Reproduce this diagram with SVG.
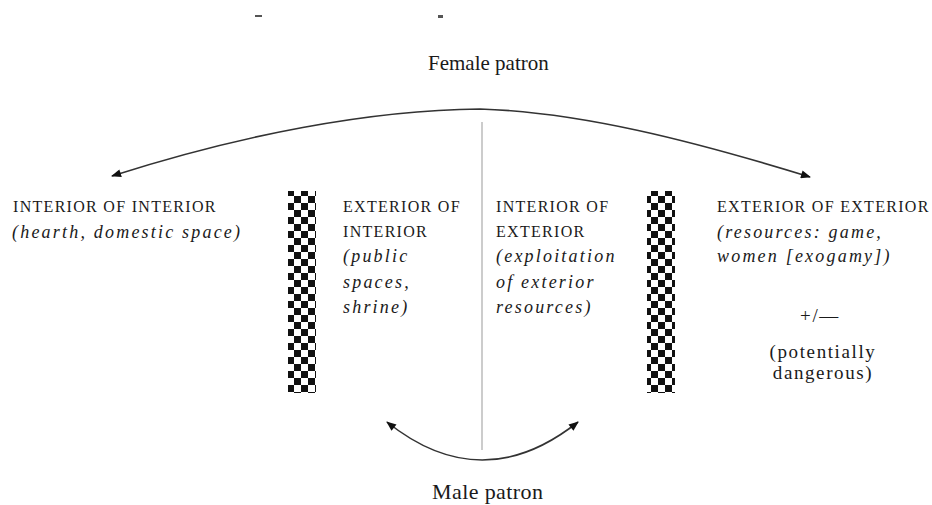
<svg xmlns="http://www.w3.org/2000/svg" width="932" height="505" viewBox="0 0 932 505">
<style>
.lab{font-family:"Liberation Serif",serif;font-size:22px;fill:#1a1a1a;letter-spacing:0.4px}
.cap{font-family:"Liberation Serif",serif;font-size:16px;fill:#1a1a1a;letter-spacing:1.3px}
.it{font-family:"Liberation Serif",serif;font-size:18px;font-style:italic;fill:#1a1a1a;letter-spacing:2.2px}
.up{font-family:"Liberation Serif",serif;font-size:19px;fill:#1a1a1a;letter-spacing:1.6px}
.arc{fill:none;stroke:#333;stroke-width:1.6}
</style>
<defs>
<marker id="ah" viewBox="0 0 10 8" refX="9" refY="4" markerWidth="11" markerHeight="8" markerUnits="userSpaceOnUse" orient="auto-start-reverse">
<path d="M0,0 L10,4 L0,8 Z" fill="#111"/>
</marker>
<pattern id="chk" x="0" y="0" width="14" height="14" patternUnits="userSpaceOnUse">
<rect width="14" height="14" fill="#fff"/>
<rect x="0" y="0" width="7" height="7" fill="#111"/>
<rect x="7" y="7" width="7" height="7" fill="#111"/>
</pattern>
</defs>
<rect width="932" height="505" fill="#fff"/>
<g id="cropmarks">
<rect x="255" y="15" width="7" height="2" fill="#555"/>
<rect x="438" y="15" width="5" height="3" fill="#555"/>
</g>
<g id="divider">
<line x1="482" y1="122" x2="482" y2="450" stroke="#999" stroke-width="1"/>
</g>
<g id="barriers">
<rect id="barrier-left" x="288" y="191" width="28" height="202" fill="url(#chk)"/>
<rect id="barrier-right" x="647" y="191" width="28" height="202" fill="url(#chk)"/>
</g>
<g id="connectors">
<path class="arc" d="M112,176 C240,135 370,110 480,109 C579,112 690,140 810,177" marker-start="url(#ah)" marker-end="url(#ah)"/>
<path class="arc" d="M387,422 Q482,498 578,422" marker-start="url(#ah)" marker-end="url(#ah)"/>
</g>
<g id="female-patron"><text class="lab" x="428" y="70" style="letter-spacing:0;font-size:21px">Female patron</text></g>
<g id="male-patron"><text class="lab" x="432" y="499">Male patron</text></g>
<g id="interior-of-interior">
<text class="cap" x="13" y="212">INTERIOR OF INTERIOR</text>
<text class="it" x="12" y="238">(hearth, domestic space)</text>
</g>
<g id="exterior-of-interior">
<text class="cap" x="343" y="212">EXTERIOR OF</text>
<text class="cap" x="343" y="237">INTERIOR</text>
<text class="it" x="343" y="262">(public</text>
<text class="it" x="343" y="288">spaces,</text>
<text class="it" x="343" y="313">shrine)</text>
</g>
<g id="interior-of-exterior">
<text class="cap" x="496" y="212">INTERIOR OF</text>
<text class="cap" x="496" y="237">EXTERIOR</text>
<text class="it" x="496" y="262">(exploitation</text>
<text class="it" x="496" y="288">of exterior</text>
<text class="it" x="496" y="313">resources)</text>
</g>
<g id="exterior-of-exterior">
<text class="cap" x="717" y="212">EXTERIOR OF EXTERIOR</text>
<text class="it" x="717" y="238">(resources: game,</text>
<text class="it" x="717" y="262">women [exogamy])</text>
<text class="up" x="820" y="322" text-anchor="middle">+/—</text>
<text class="up" x="823" y="358" text-anchor="middle">(potentially</text>
<text class="up" x="823" y="379" text-anchor="middle">dangerous)</text>
</g>
</svg>
